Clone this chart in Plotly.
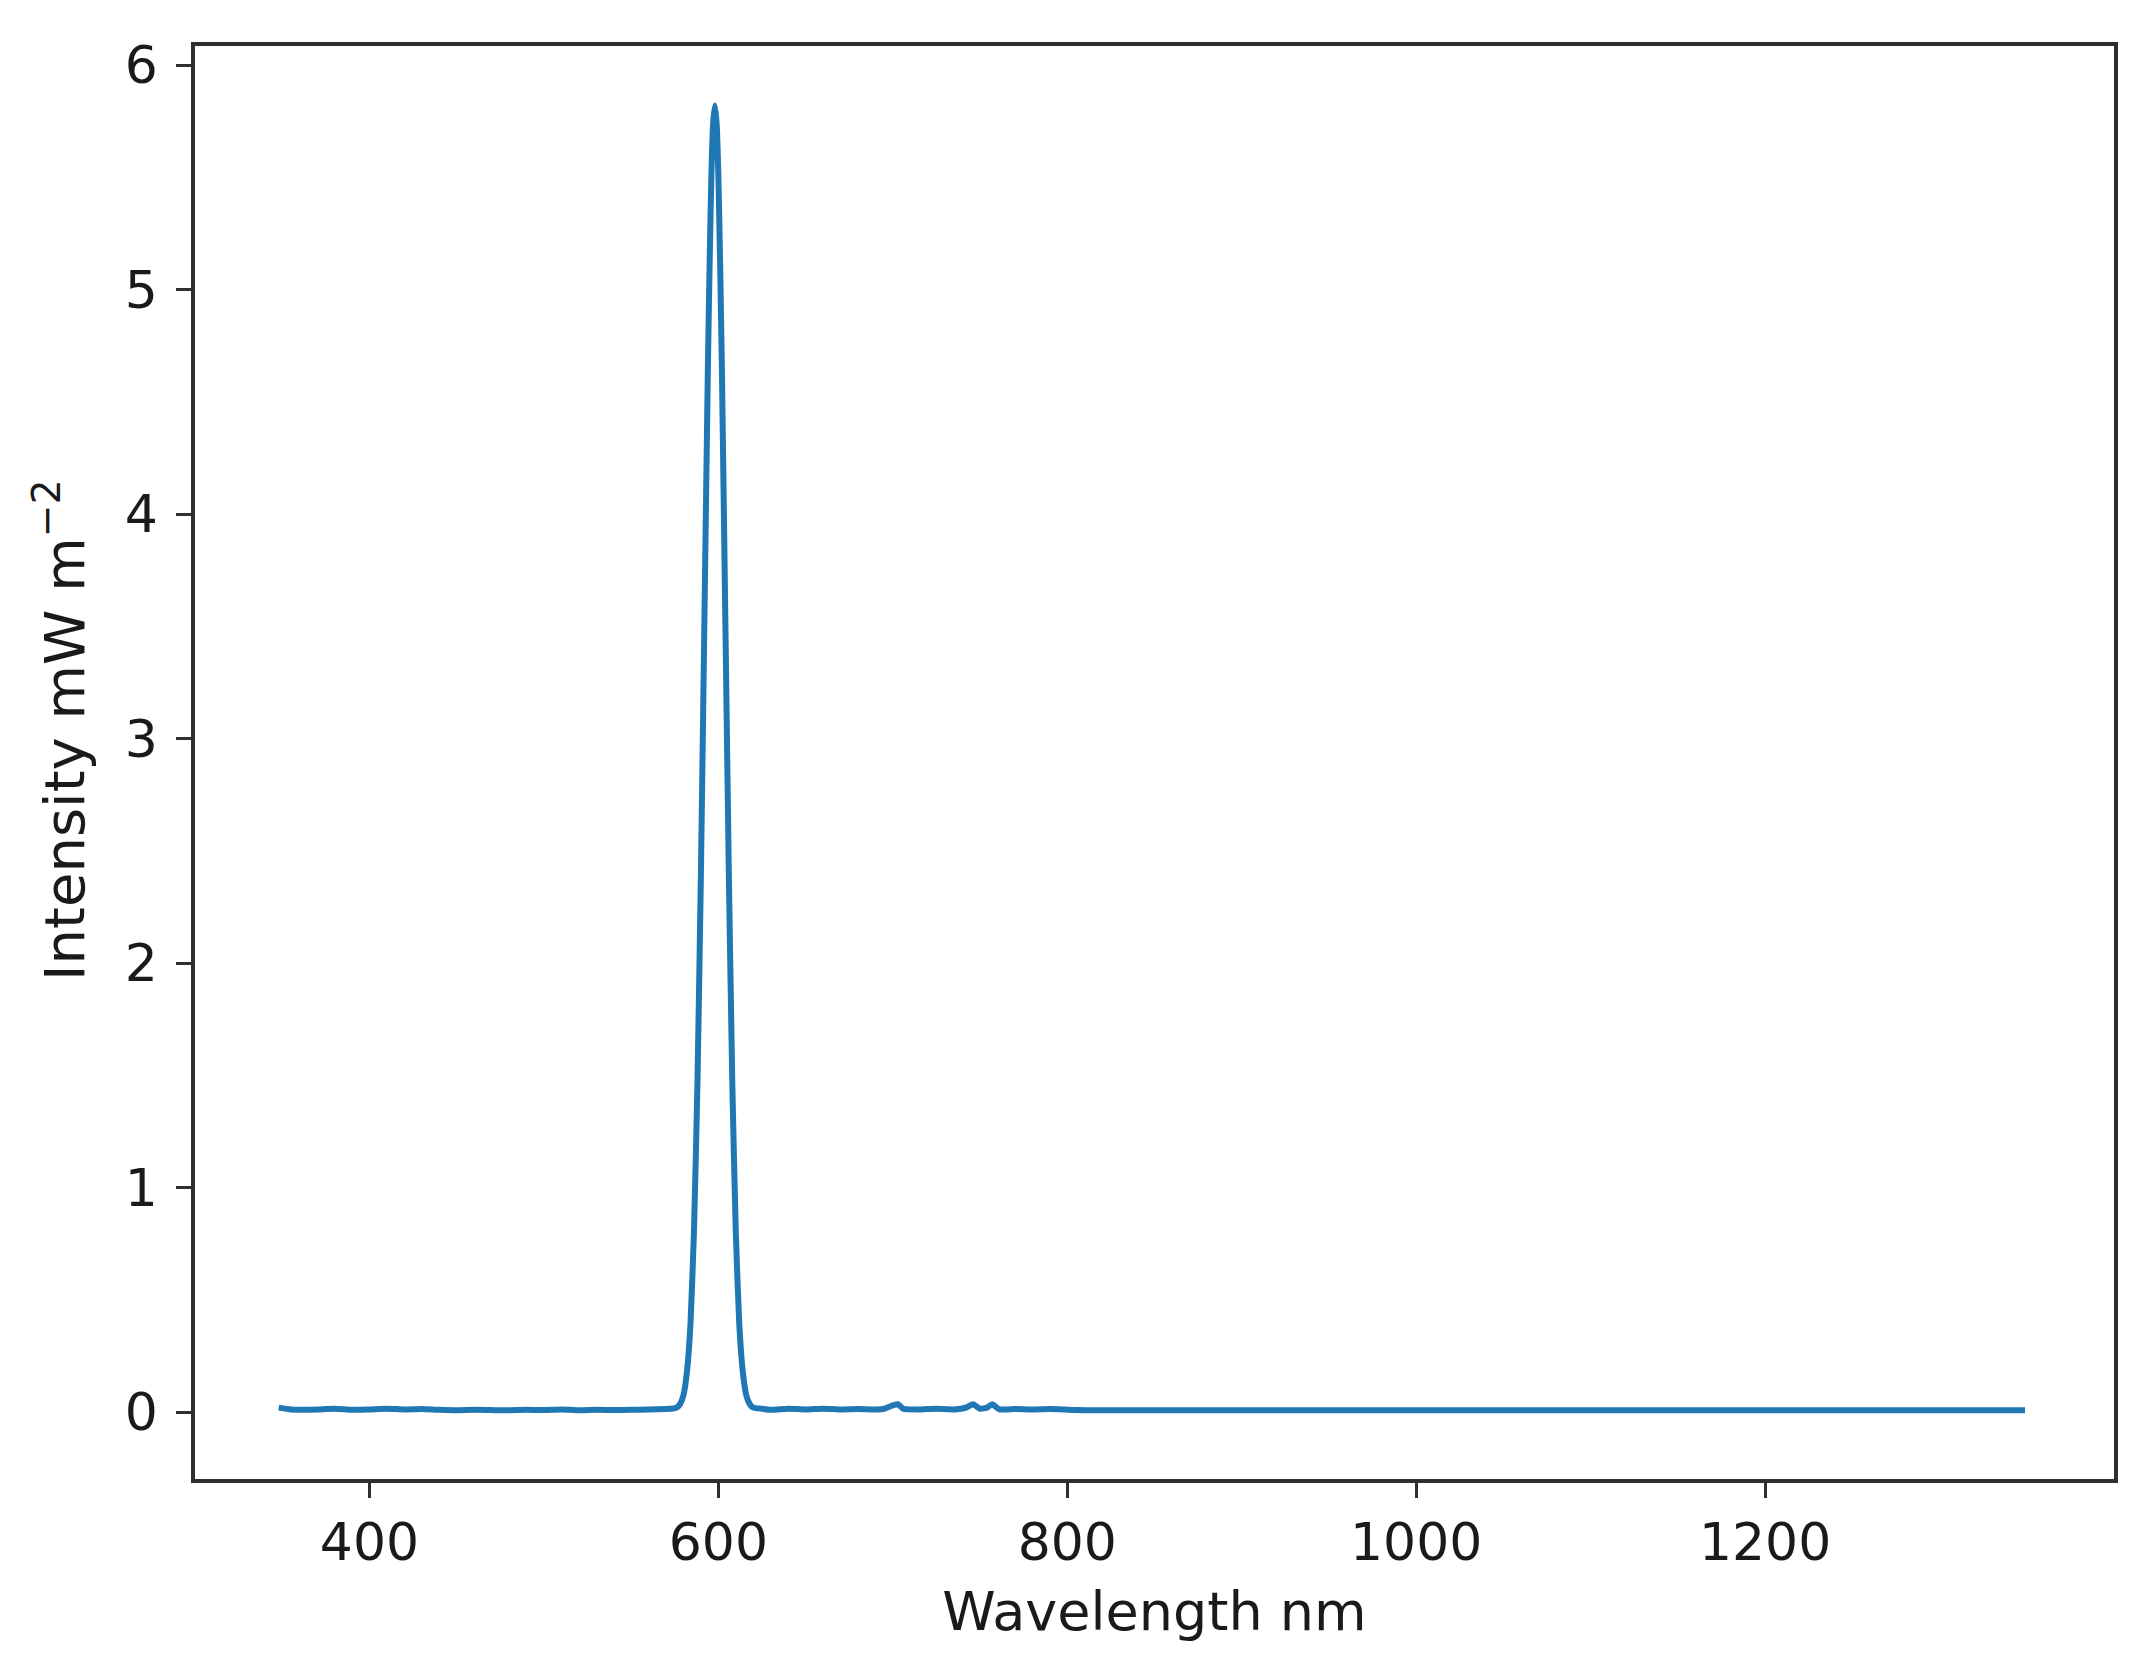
import plotly.graph_objects as go

wavelength_nm = [
    348, 355, 360, 370, 380, 390, 400, 410, 420, 430, 440, 450, 460, 470, 480,
    490, 500, 510, 520, 530, 540, 550, 560, 570, 574,
    576, 578, 580, 582, 584, 586, 588, 590, 592, 594, 595, 596, 597, 598,
    599, 600, 601, 602, 604, 606, 608, 610, 612, 614, 616, 618, 620,
    625, 630, 640, 650, 660, 670, 680, 690, 695, 700, 703, 706, 715, 725, 735,
    742, 746, 750, 754, 757, 761, 770, 780, 790, 798, 805, 815, 830, 860,
    900, 1000, 1100, 1200, 1300, 1349,
]
intensity = [
    0.020, 0.012, 0.010, 0.012, 0.015, 0.010, 0.012, 0.015, 0.012, 0.014, 0.010,
    0.008, 0.010, 0.009, 0.008, 0.010, 0.009, 0.012, 0.008, 0.010, 0.009, 0.010,
    0.012, 0.014, 0.016,
    0.020, 0.035, 0.075, 0.18, 0.39, 0.80, 1.46, 2.40, 3.53, 4.66, 5.12, 5.51, 5.74, 5.82,
    5.74, 5.51, 5.12, 4.66, 3.53, 2.40, 1.46, 0.80, 0.39, 0.18, 0.075, 0.035, 0.020,
    0.015, 0.010, 0.015, 0.012, 0.015, 0.012, 0.014, 0.012, 0.015, 0.030, 0.035,
    0.015, 0.012, 0.015, 0.012, 0.020, 0.035, 0.015, 0.020, 0.035, 0.012, 0.014,
    0.012, 0.014, 0.012, 0.009, 0.008, 0.008, 0.008,
    0.008, 0.008, 0.008, 0.008, 0.008, 0.008,
]

x_ticks = [400, 600, 800, 1000, 1200]
y_ticks = [0, 1, 2, 3, 4, 5, 6]

FONT = "DejaVu Sans"
AXIS_COLOR = "#2e2e2e"
TEXT_COLOR = "#1a1a1a"

W, H = 2138, 1668
M_L, M_R, M_T, M_B = 187, 32, 38, 197
PLOT_W = W - M_L - M_R
PLOT_H = H - M_T - M_B

fig = go.Figure()
fig.add_trace(go.Scatter(
    x=wavelength_nm, y=intensity, mode="lines",
    line=dict(color="#1f77b4", width=6, shape="spline", smoothing=0.5),
    showlegend=False,
))

axis_common = dict(
    showgrid=False, zeroline=False,
    showline=True, linecolor=AXIS_COLOR, linewidth=3.5, mirror=True,
    ticks="outside", ticklen=15, tickwidth=3, tickcolor=AXIS_COLOR,
    tickfont=dict(family=FONT, size=52, color=TEXT_COLOR),
)

fig.update_xaxes(
    range=[300, 1400], tickvals=x_ticks, ticktext=[str(v) for v in x_ticks],
    title=dict(text="Wavelength nm", font=dict(family=FONT, size=54, color=TEXT_COLOR), standoff=22),
    **axis_common,
)
fig.update_yaxes(
    range=[-0.298, 6.085], tickvals=y_ticks, ticktext=[str(v) for v in y_ticks],
    ticklabelstandoff=8,
    **axis_common,
)

# y-axis title placed as a rotated annotation
fig.add_annotation(
    text="Intensity mW m<sup>−2</sup>",
    xref="paper", yref="paper",
    x=(52 - M_L) / PLOT_W, y=1 - (722 - M_T) / PLOT_H,
    xanchor="center", yanchor="middle",
    textangle=-90, showarrow=False,
    font=dict(family=FONT, size=56, color=TEXT_COLOR),
)

fig.update_layout(
    width=W, height=H,
    margin=dict(l=M_L, r=M_R, t=M_T, b=M_B),
    paper_bgcolor="white", plot_bgcolor="white",
    font=dict(family=FONT),
)

fig.write_html("out.html")
